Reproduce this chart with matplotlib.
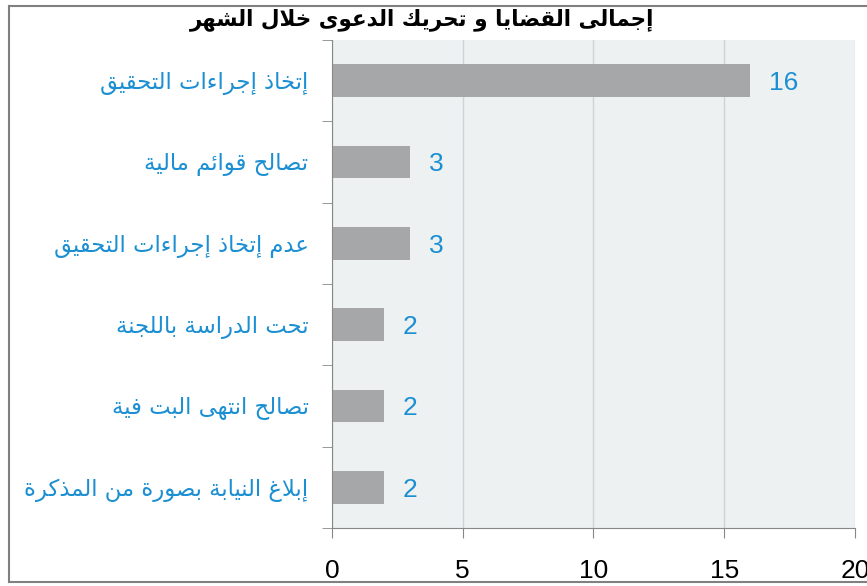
import matplotlib
matplotlib.use("Agg")
import matplotlib.pyplot as plt
from matplotlib.lines import Line2D

# --- data ---
title = "إجمالى القضايا و تحريك الدعوى خلال الشهر"
categories = [
    "إتخاذ إجراءات التحقيق",
    "تصالح قوائم مالية",
    "عدم إتخاذ إجراءات التحقيق",
    "تحت الدراسة باللجنة",
    "تصالح انتهى البت فية",
    "إبلاغ النيابة بصورة من المذكرة",
]
values = [16, 3, 3, 2, 2, 2]
xticks = [0, 5, 10, 15, 20]

# --- tiny arabic shaper (matplotlib has no bidi / shaping) ---
# letter -> (isolated form, number of forms)
FORMS = {
    'ء': (0xFE80, 1), 'آ': (0xFE81, 2), 'أ': (0xFE83, 2), 'ؤ': (0xFE85, 2),
    'إ': (0xFE87, 2), 'ئ': (0xFE89, 4), 'ا': (0xFE8D, 2), 'ب': (0xFE8F, 4),
    'ة': (0xFE93, 2), 'ت': (0xFE95, 4), 'ث': (0xFE99, 4), 'ج': (0xFE9D, 4),
    'ح': (0xFEA1, 4), 'خ': (0xFEA5, 4), 'د': (0xFEA9, 2), 'ذ': (0xFEAB, 2),
    'ر': (0xFEAD, 2), 'ز': (0xFEAF, 2), 'س': (0xFEB1, 4), 'ش': (0xFEB5, 4),
    'ص': (0xFEB9, 4), 'ض': (0xFEBD, 4), 'ط': (0xFEC1, 4), 'ظ': (0xFEC5, 4),
    'ع': (0xFEC9, 4), 'غ': (0xFECD, 4), 'ف': (0xFED1, 4), 'ق': (0xFED5, 4),
    'ك': (0xFED9, 4), 'ل': (0xFEDD, 4), 'م': (0xFEE1, 4), 'ن': (0xFEE5, 4),
    'ه': (0xFEE9, 4), 'و': (0xFEED, 2), 'ى': (0xFEEF, 2), 'ي': (0xFEF1, 4),
}
LAM_ALEF = {'آ': 0xFEF5, 'أ': 0xFEF7, 'إ': 0xFEF9, 'ا': 0xFEFB}


def shape(s):
    out = []
    i = 0
    while i < len(s):
        c = s[i]
        if c not in FORMS:
            out.append(c)
            i += 1
            continue
        prev = s[i - 1] if i > 0 else ''
        joins_prev = prev in FORMS and FORMS[prev][1] == 4
        if c == 'ل' and i + 1 < len(s) and s[i + 1] in LAM_ALEF:
            out.append(chr(LAM_ALEF[s[i + 1]] + (1 if joins_prev else 0)))
            i += 2
            continue
        base, n = FORMS[c]
        nxt = s[i + 1] if i + 1 < len(s) else ''
        joins_next = n == 4 and nxt in FORMS and FORMS[nxt][1] > 1
        if n == 1:
            k = 0
        elif joins_prev and joins_next:
            k = 3
        elif joins_next:
            k = 2
        elif joins_prev:
            k = 1
        else:
            k = 0
        out.append(chr(base + k))
        i += 1
    return ''.join(out)[::-1]


blue = '#1b8fd2'
bar_col = '#a5a7a9'

fig = plt.figure(figsize=(8.67, 5.86), dpi=100)
ax = fig.add_axes([0.383, 0.099, 0.603, 0.833])
ax.set_facecolor('#eef1f2')

ypos = list(range(len(categories)))
ax.barh(ypos, values, height=0.4, color=bar_col, zorder=2)
ax.set_ylim(len(categories) - 0.5, -0.5)
ax.set_xlim(0, 20)

for y, v in zip(ypos, values):
    ax.text(v + 0.7, y + 0.03, str(v), color=blue, fontsize=19, va='center',
            ha='left', family='Liberation Sans')

ax.set_yticks(ypos)
ax.set_yticklabels([shape(c) for c in categories], color=blue, fontsize=16.4,
                   family='DejaVu Sans')
ax.set_yticks([i - 0.5 for i in range(len(categories) + 1)], minor=True)
ax.tick_params(axis='y', which='major', length=0, pad=17)
ax.tick_params(axis='y', which='minor', length=7, color='#888888')

ax.set_xticks(xticks)
ax.set_xticklabels([str(t) for t in xticks], fontsize=19, family='Liberation Sans')
ax.tick_params(axis='x', length=7, pad=15, color='#888888')

ax.xaxis.grid(True, color='#cfd3d5', lw=1, zorder=0)
for s in ['top', 'right']:
    ax.spines[s].set_visible(False)
for s in ['left', 'bottom']:
    ax.spines[s].set_color('#888888')

fig.text(0.487, 0.967, shape(title), ha='center', va='center', fontsize=15.5,
         fontweight='bold', family='DejaVu Sans')

# outer frame (screenshot border)
fc = '#808080'
fig.add_artist(Line2D([0.0104, 1], [0.990, 0.990], color=fc, lw=1.5))
fig.add_artist(Line2D([0.0104, 0.0104], [0.0068, 0.990], color=fc, lw=1.5))
fig.add_artist(Line2D([0.0104, 1], [0.0068, 0.0068], color=fc, lw=1.5))

fig.savefig('out.png', dpi=100)
